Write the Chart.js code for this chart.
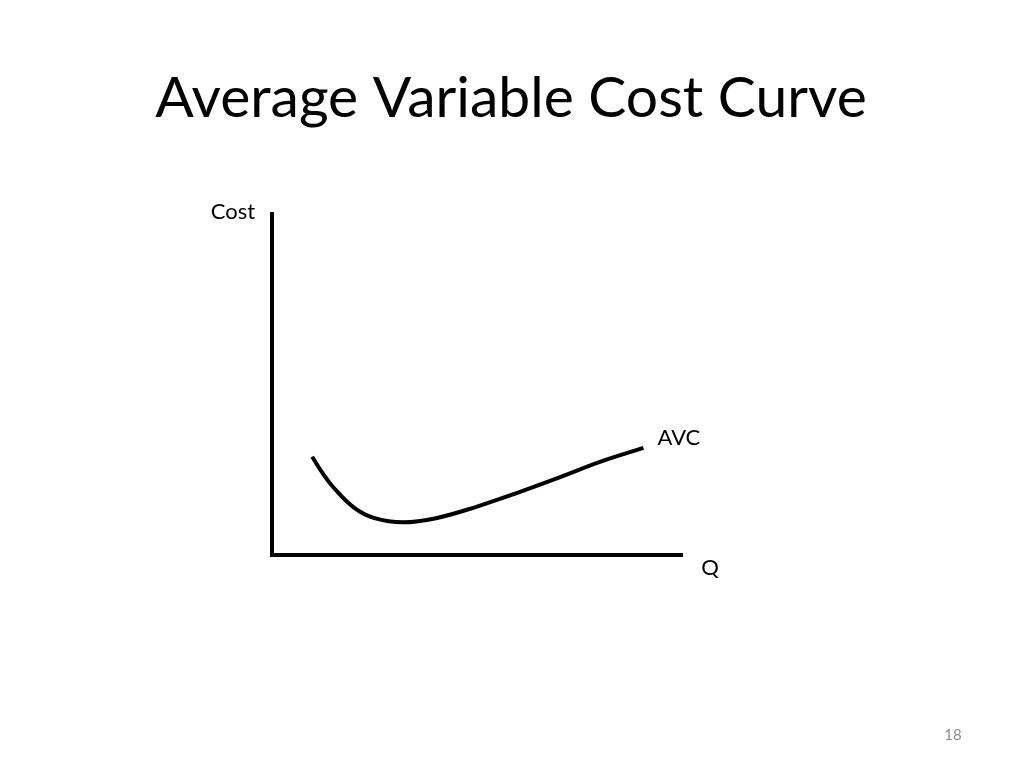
<!DOCTYPE html>
<html>
<head>
<meta charset="utf-8">
<script src="https://cdn.jsdelivr.net/npm/chart.js@4/dist/chart.umd.min.js"></script>
<style>
html,body{margin:0;padding:0;background:#fff;}
#wrap{position:relative;width:1024px;height:768px;}
</style>
</head>
<body>
<div id="wrap"><canvas id="c" width="1024" height="768"></canvas></div>
<script>
// Data (arbitrary units: Q 0..10, Cost 0..10)
const quantity = [0.98, 1.25, 1.50, 2.00, 2.50, 3.20, 4.00, 5.00, 6.00, 7.00, 8.00, 9.06];
const avcCost  = [2.88, 2.37, 1.98, 1.39, 1.08, 0.96, 1.08, 1.42, 1.83, 2.27, 2.73, 3.14];
const titleText = "Average Variable Cost Curve";
const yAxisLabel = "Cost";
const xAxisLabel = "Q";
const seriesLabel = "AVC";
const slideNumber = "18";

const FONT = "Lato, 'Open Sans', sans-serif";

const textPlugin = {
  id: 'slideText',
  afterDraw(chart) {
    const ctx = chart.ctx;
    const a = chart.chartArea;
    ctx.save();
    ctx.fillStyle = '#000';
    // Title
    ctx.textAlign = 'center';
    ctx.textBaseline = 'alphabetic';
    ctx.font = '57px ' + FONT;
    ctx.fillText(titleText, 511, 117);
    // Axis labels
    ctx.font = '22px ' + FONT;
    ctx.textBaseline = 'middle';
    ctx.textAlign = 'center';
    ctx.fillText(yAxisLabel, a.left - 39, a.top - 2);
    ctx.fillText(xAxisLabel, a.right + 28, a.bottom + 13);
    // Series label at end of line
    const xs = chart.scales.x, ys = chart.scales.y;
    const lx = xs.getPixelForValue(quantity[quantity.length - 1]);
    const ly = ys.getPixelForValue(avcCost[avcCost.length - 1]);
    ctx.textAlign = 'left';
    ctx.fillText(seriesLabel, lx + 14, ly - 10);
    // slide number
    ctx.fillStyle = '#8a8a8a';
    ctx.font = '15px ' + FONT;
    ctx.textAlign = 'center';
    ctx.fillText(slideNumber, 953, 735);
    ctx.restore();
  }
};

new Chart(document.getElementById('c'), {
  type: 'line',
  data: {
    datasets: [{
      label: seriesLabel,
      data: quantity.map((q, i) => ({x: q, y: avcCost[i]})),
      borderColor: '#000',
      borderWidth: 4,
      pointRadius: 0,
      fill: false,
      tension: 0.4,
      borderCapStyle: 'butt'
    }]
  },
  options: {
    responsive: false,
    animation: false,
    layout: { padding: { left: 272, top: 214, right: 342, bottom: 213 } },
    plugins: { legend: { display: false }, tooltip: { enabled: false }, title: { display: false } },
    scales: {
      x: {
        type: 'linear', min: 0, max: 10,
        grid: { display: false, drawTicks: false },
        ticks: { display: false },
        border: { display: true, color: '#000', width: 4 }
      },
      y: {
        type: 'linear', min: 0, max: 10,
        grid: { display: false, drawTicks: false },
        ticks: { display: false },
        border: { display: true, color: '#000', width: 4 }
      }
    }
  },
  plugins: [textPlugin]
});
</script>
</body>
</html>
